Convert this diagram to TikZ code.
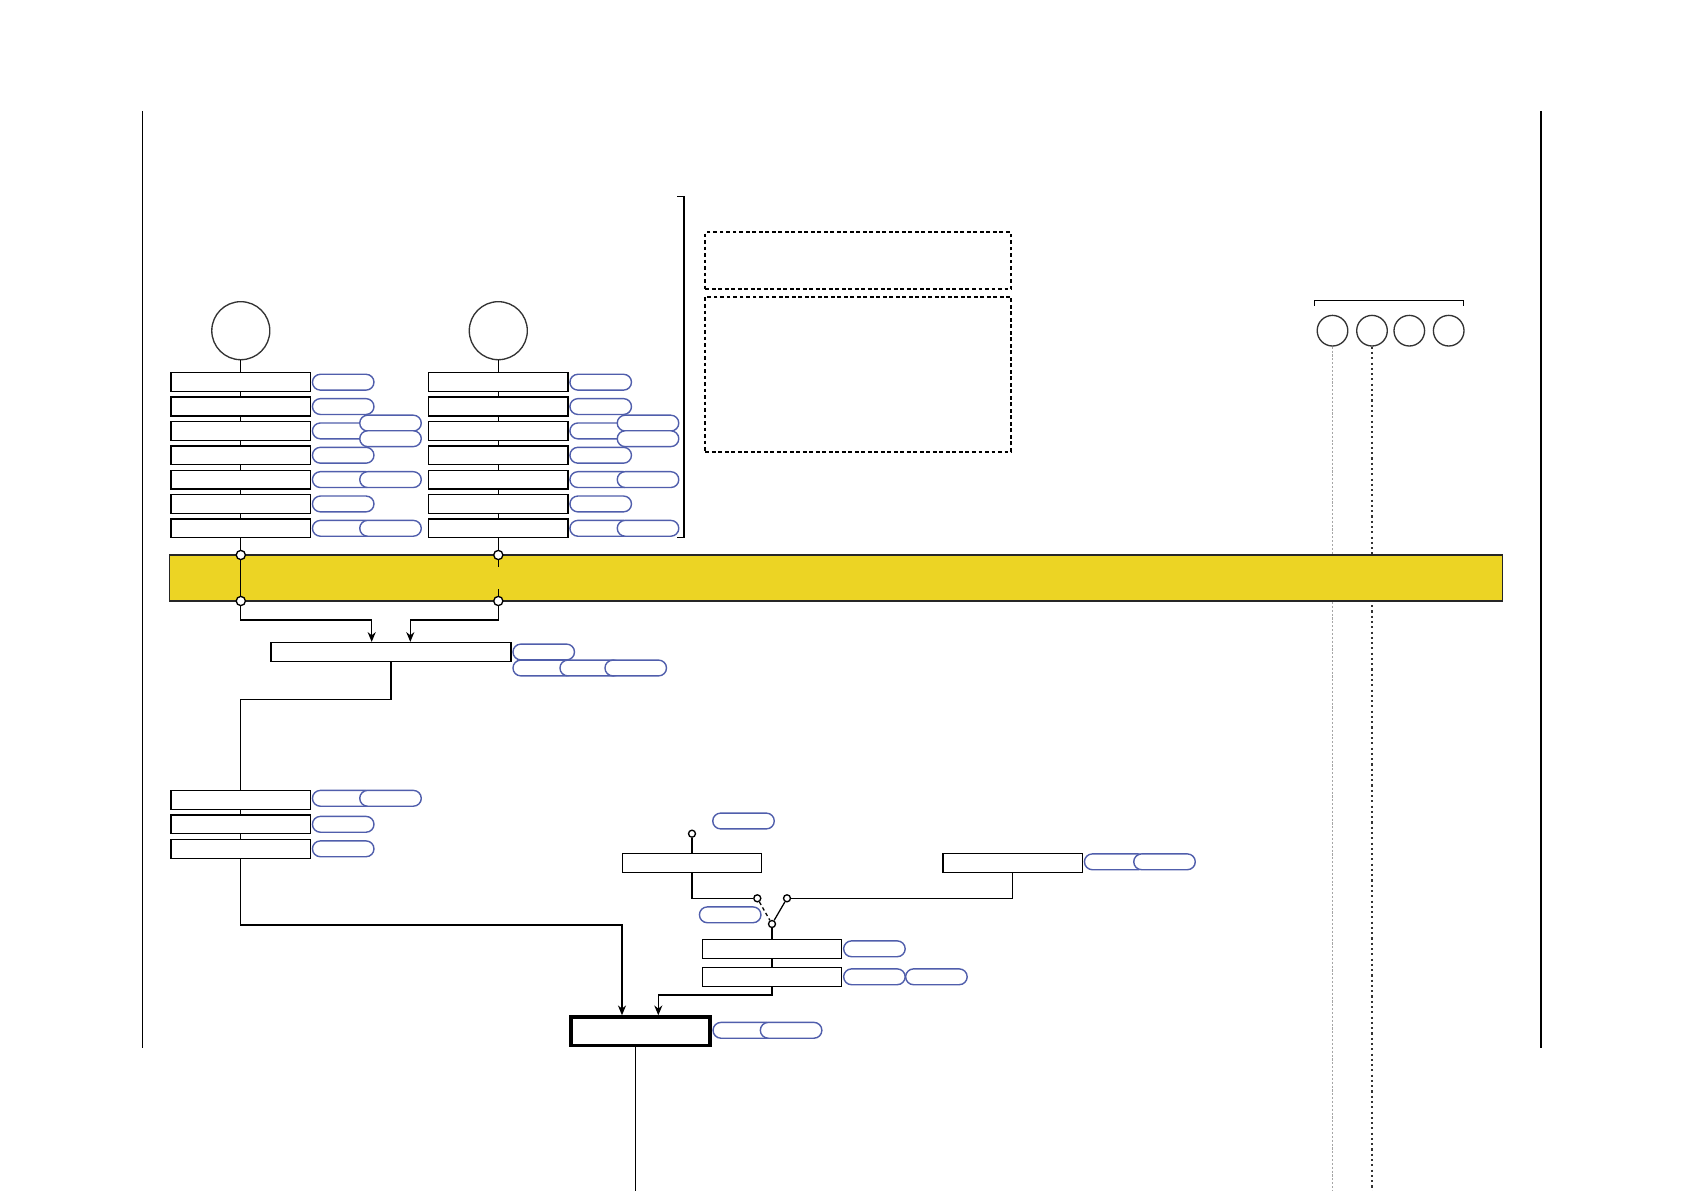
\documentclass[tikz,border=0pt]{standalone}
\usepackage{tikz}
\usetikzlibrary{calc,arrows.meta}
\definecolor{tagblue}{RGB}{80,94,172}
\definecolor{busyellow}{RGB}{236,212,36}

\begin{document}
\begin{tikzpicture}[
  x=0.01cm, y=-0.01cm,
  every node/.style={inner sep=0pt},
  cell/.style={
    rectangle, draw=black, fill=white, line width=0.38pt,
    minimum width=1.394cm, minimum height=0.188cm,
  },
  tagpill/.style={
    rectangle, rounded corners=0.079cm,
    draw=tagblue, fill=white, line width=0.4pt,
    minimum width=0.615cm, minimum height=0.158cm,
  },
  src/.style={circle, draw=black!80, line width=0.38pt, minimum size=0.58cm},
  unit/.style={circle, draw=black!80, line width=0.38pt, minimum size=0.306cm},
  port/.style={circle, draw=black, fill=white, line width=0.38pt, minimum size=0.092cm},
  pin/.style={circle, draw=black, fill=white, line width=0.38pt, minimum size=0.07cm},
  zone/.style={rectangle, draw=black, line width=0.6pt, dash pattern=on 1.1pt off 0.75pt},
  wire/.style={draw=black, line width=0.36pt},
  arr/.style={wire, -{Stealth[length=2.8pt,width=2.3pt]}},
]

\fill[white] (0,0) rectangle (1684,1191);
\useasboundingbox (0,0) rectangle (1684,1191);

\def\rowH{24.35}
\def\tagA{32}
\def\tagB{79.3}

% ----- page margins -----
\draw[wire, line width=0.32pt] (142.8,111) -- (142.8,1048);
\draw[wire, line width=0.32pt] (1541,111) -- (1541,1048);

% ----- right group: bracket + 4 units with probe lines -----
\draw[wire] (1314.3,305.7) -- (1314.3,300.7) -- (1463.3,300.7) -- (1463.3,305.7);
\node[unit] (K1) at (1332.5,330.7) {};
\node[unit] (K2) at (1372,330.7) {};
\node[unit] (K3) at (1409.3,330.7) {};
\node[unit] (K4) at (1448.7,330.7) {};
\coordinate (K1end) at (1332.5,1191);
\coordinate (K2end) at (1372,1191);
\draw[draw=black!35, line width=0.5pt, dash pattern=on 0.6pt off 0.5pt] (K1) -- (K1end);
\draw[draw=black!80, line width=0.32pt, dash pattern=on 0.6pt off 0.9pt] (K2) -- (K2end);

% ----- bus -----
\node[rectangle, draw=black!85, line width=0.4pt, fill=busyellow,
      minimum width=13.32cm, minimum height=0.46cm] (bus) at (836,578) {};

% ----- two source columns -----
\node[src] (C1) at (240.8,330.7) {};
\node[cell] (L1) at (240.8,382.2) {};
\node[cell] (L2) at ($(L1)+(0,\rowH)$) {};
\node[cell] (L3) at ($(L2)+(0,\rowH)$) {};
\node[cell] (L4) at ($(L3)+(0,\rowH)$) {};
\node[cell] (L5) at ($(L4)+(0,\rowH)$) {};
\node[cell] (L6) at ($(L5)+(0,\rowH)$) {};
\node[cell] (L7) at ($(L6)+(0,\rowH)$) {};

\node[src] (C2) at (498.3,330.7) {};
\node[cell] (R1) at (498.3,382.2) {};
\node[cell] (R2) at ($(R1)+(0,\rowH)$) {};
\node[cell] (R3) at ($(R2)+(0,\rowH)$) {};
\node[cell] (R4) at ($(R3)+(0,\rowH)$) {};
\node[cell] (R5) at ($(R4)+(0,\rowH)$) {};
\node[cell] (R6) at ($(R5)+(0,\rowH)$) {};
\node[cell] (R7) at ($(R6)+(0,\rowH)$) {};

% pills next to the left column
\node[tagpill] (L1a) at ($(L1.east)+(\tagA,0)$) {};
\node[tagpill] (L2a) at ($(L2.east)+(\tagA,0)$) {};
\node[tagpill] (L3a) at ($(L3.east)+(\tagA,0)$) {};
\node[tagpill] (L3b) at ($(L3.east)+(\tagB,-7.8)$) {};
\node[tagpill] (L3c) at ($(L3.east)+(\tagB,7.8)$) {};
\node[tagpill] (L4a) at ($(L4.east)+(\tagA,0)$) {};
\node[tagpill] (L5a) at ($(L5.east)+(\tagA,0)$) {};
\node[tagpill] (L5b) at ($(L5.east)+(\tagB,0)$) {};
\node[tagpill] (L6a) at ($(L6.east)+(\tagA,0)$) {};
\node[tagpill] (L7a) at ($(L7.east)+(\tagA,0)$) {};
\node[tagpill] (L7b) at ($(L7.east)+(\tagB,0)$) {};

% pills next to the right column
\node[tagpill] (R1a) at ($(R1.east)+(\tagA,0)$) {};
\node[tagpill] (R2a) at ($(R2.east)+(\tagA,0)$) {};
\node[tagpill] (R3a) at ($(R3.east)+(\tagA,0)$) {};
\node[tagpill] (R3b) at ($(R3.east)+(\tagB,-7.8)$) {};
\node[tagpill] (R3c) at ($(R3.east)+(\tagB,7.8)$) {};
\node[tagpill] (R4a) at ($(R4.east)+(\tagA,0)$) {};
\node[tagpill] (R5a) at ($(R5.east)+(\tagA,0)$) {};
\node[tagpill] (R5b) at ($(R5.east)+(\tagB,0)$) {};
\node[tagpill] (R6a) at ($(R6.east)+(\tagA,0)$) {};
\node[tagpill] (R7a) at ($(R7.east)+(\tagA,0)$) {};
\node[tagpill] (R7b) at ($(R7.east)+(\tagB,0)$) {};

% bracket round both columns
\draw[wire] (677.3,196.7) -- (684,196.7) -- (684,537.7) -- (677.3,537.7);

% ----- dashed zones -----
\node[zone, minimum width=3.057cm, minimum height=0.57cm] (G1) at (858.2,260.8) {};
\node[zone, minimum width=3.057cm, minimum height=1.55cm] (G2) at (858.2,374.2) {};

% ----- bus ports -----
\node[port] (PA1) at (240.8,555) {};
\node[port] (PA2) at (240.8,601) {};
\node[port] (PB1) at (498.3,555) {};
\node[port] (PB2) at (498.3,601) {};
\coordinate (PB1s) at (498.3,567);
\coordinate (PB2s) at (498.3,589);

\draw[wire] (C1) -- (L1) -- (L2) -- (L3) -- (L4) -- (L5) -- (L6) -- (L7) -- (PA1) -- (PA2);
\draw[wire] (C2) -- (R1) -- (R2) -- (R3) -- (R4) -- (R5) -- (R6) -- (R7) -- (PB1);
\draw[wire] (PB1) -- (PB1s);
\draw[wire] (PB2s) -- (PB2);

% ----- merge stage -----
\node[cell, minimum width=2.4cm] (M) at (391,652) {};
\node[tagpill] (Ma) at ($(M.east)+(\tagA,0)$) {};
\node[tagpill] (Mb) at ($(M.east)+(\tagA,16)$) {};
\node[tagpill] (Mc) at ($(M.east)+(79,16)$) {};
\node[tagpill] (Md) at ($(M.east)+(124,16)$) {};

\draw[arr] (PA2) -- ++(0,19) -| ([xshift=-0.193cm]M.north);
\draw[arr] (PB2) -- ++(0,19) -| ([xshift=0.193cm]M.north);

% ----- left lower chain -----
\node[cell] (Q1) at (240.8,799.8) {};
\node[cell] (Q2) at ($(Q1)+(0,24.5)$) {};
\node[cell] (Q3) at ($(Q2)+(0,24.5)$) {};
\node[tagpill] (Q1a) at ($(Q1.east)+(\tagA,-1.5)$) {};
\node[tagpill] (Q1b) at ($(Q1.east)+(\tagB,-1.5)$) {};
\node[tagpill] (Q2a) at ($(Q2.east)+(\tagA,0)$) {};
\node[tagpill] (Q3a) at ($(Q3.east)+(\tagA,0)$) {};

\draw[wire] (M.south) -- ++(0,37.5) -| (Q1.north);
\draw[wire] (Q1) -- (Q2) -- (Q3);

% ----- switch stage -----
\node[pin] (S0) at (692,833.7) {};
\node[tagpill] (T) at (743.5,821) {};
\node[cell] (A) at (692,862.8) {};
\node[cell] (B) at (1012.8,862.8) {};
\node[tagpill] (Ba) at ($(B.east)+(\tagA,-1)$) {};
\node[tagpill] (Bb) at ($(B.east)+(81.3,-1)$) {};

\node[pin] (S1) at (757.3,898.3) {};
\node[pin] (S2) at (787,898.3) {};
\node[pin] (S3) at (772,924) {};
\node[tagpill] (W) at (730.2,914.8) {};

\node[cell] (Cc) at (772,948.8) {};
\node[cell] (D) at (772,976.8) {};
\node[tagpill] (Cca) at ($(Cc.east)+(\tagA,0)$) {};
\node[tagpill] (Da) at ($(D.east)+(\tagA,0)$) {};
\node[tagpill] (Db) at ($(D.east)+(94,0)$) {};

\draw[wire] (S0) -- (A);
\draw[wire] (A) |- (S1);
\draw[wire] (S2) -| (B);
\draw[wire, dash pattern=on 1pt off 0.8pt] (S1) -- (S3);
\draw[wire] (S2) -- (S3);
\draw[wire] (S3) -- (Cc) -- (D);

% ----- output -----
\node[cell, line width=1pt, minimum width=1.39cm, minimum height=0.285cm] (F) at (640.5,1031.3) {};
\node[tagpill] (Fa) at ($(F.east)+(\tagA,-1)$) {};
\node[tagpill] (Fb) at ($(F.east)+(\tagB,-1)$) {};

\draw[arr] (Q3.south) -- ++(0,66) -| ([xshift=-0.185cm]F.north);
\draw[arr] (D.south) -- ++(0,8) -| ([xshift=0.178cm]F.north);

\coordinate (Fend) at (635.7,1191);
\draw[wire] (F.south -| Fend) -- (Fend);

\end{tikzpicture}
\end{document}
